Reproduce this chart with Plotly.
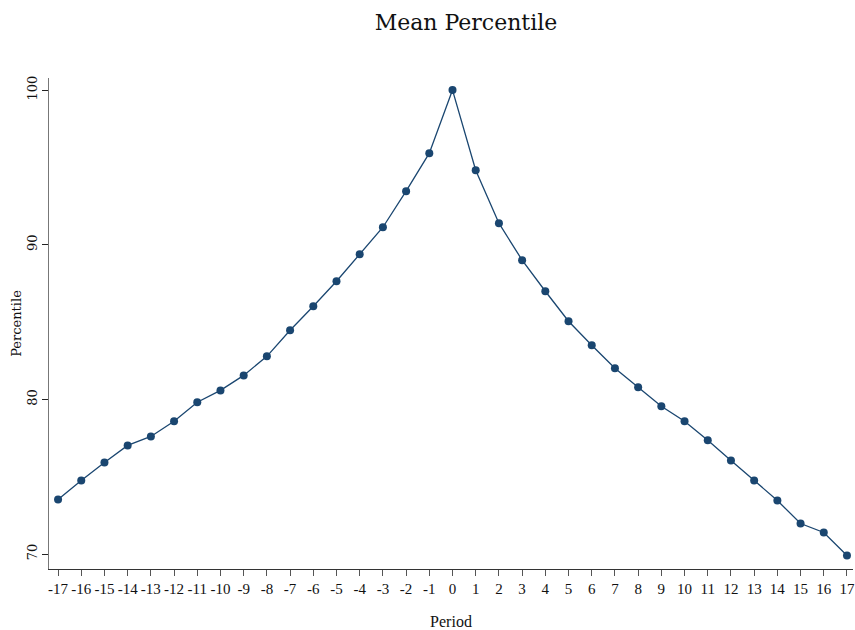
import plotly.graph_objects as go

periods = list(range(-17, 18))
mean_percentile = [73.53, 74.76, 75.92, 77.02, 77.6, 78.58, 79.81, 80.58, 81.55, 82.78,
                   84.47, 86.02, 87.64, 89.39, 91.13, 93.46, 95.92, 100.0,
                   94.82, 91.39, 89.0, 86.99, 85.05, 83.5, 82.01, 80.78, 79.55,
                   78.58, 77.35, 76.05, 74.76, 73.46, 71.97, 71.39, 69.9]
y_ticks = [70, 80, 90, 100]

color = "#1a4670"

fig = go.Figure(go.Scatter(
    x=periods, y=mean_percentile, mode="lines+markers",
    line=dict(color=color, width=1.3),
    marker=dict(color=color, size=8),
    cliponaxis=False,
))

fig.update_layout(
    width=855, height=630,
    margin=dict(l=49, r=2, t=78, b=61, autoexpand=False),
    paper_bgcolor="white", plot_bgcolor="white",
    showlegend=False,
    title=dict(text="Mean Percentile", x=0.545, xanchor="center", y=0.965, yanchor="middle",
               font=dict(family="DejaVu Serif", size=22, color="#111")),
    font=dict(family="Liberation Serif", color="#111"),
)
fig.update_xaxes(
    range=[-17.39, 17.26], tickmode="array", tickvals=periods, ticktext=[str(p) for p in periods],
    showgrid=False, zeroline=False, showline=True, linecolor="#333", linewidth=1,
    ticks="outside", ticklen=6, tickcolor="#555", automargin=False, tickangle=0,
    tickfont=dict(family="Liberation Serif", size=15),
    title=dict(text="Period", font=dict(family="Liberation Serif", size=16), standoff=22),
)
fig.update_yaxes(
    range=[69.03, 100.78], tickmode="array", tickvals=y_ticks, ticktext=[str(v) for v in y_ticks],
    showgrid=False, zeroline=False, showline=True, linecolor="#777", linewidth=1,
    ticks="outside", ticklen=6, tickcolor="#222", tickangle=-90, automargin=False,
    tickfont=dict(family="DejaVu Serif", size=13),
    title=dict(text="Percentile", font=dict(family="DejaVu Serif", size=13), standoff=0),
)

fig.write_html("out.html", config={"displayModeBar": False},
               post_script="document.body.style.margin='0';document.body.style.overflow='hidden';")
